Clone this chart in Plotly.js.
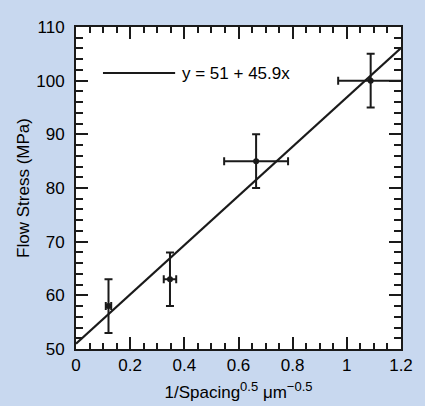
<!DOCTYPE html>
<html>
<head>
<meta charset="utf-8">
<script src="https://cdn.plot.ly/plotly-3.0.1.min.js"></script>
<style>html,body{margin:0;padding:0;background:#c8d8ef;}#chart{width:425px;height:406px;}</style>
</head>
<body>
<div id="chart"></div>
<script>
// Data
const spacingX = [0.12, 0.347, 0.665, 1.088];
const flowStress = [58, 63, 85, 100];
const xError = [0.01, 0.023, 0.118, 0.12];
const yError = [5, 5, 5, 5];
const fitIntercept = 51;
const fitSlope = 45.9;
const fitX = [0, 1.2];
const fitLabel = 'y = 51 + 45.9x';
const xTicks = [0, 0.2, 0.4, 0.6, 0.8, 1, 1.2];
const xTickText = ['0', '0.2', '0.4', '0.6', '0.8', '1', '1.2'];
const yTicks = [50, 60, 70, 80, 90, 100, 110];

const fitY = fitX.map(x => fitIntercept + fitSlope * x);
const FONT = '"Liberation Sans", Arial, sans-serif';
const INK = '#1a1a1a';

const traces = [
  {
    x: fitX, y: fitY, mode: 'lines', type: 'scatter',
    line: {color: INK, width: 2.2}, hoverinfo: 'skip', showlegend: false, cliponaxis: true
  },
  {
    x: spacingX, y: flowStress, mode: 'markers', type: 'scatter',
    marker: {color: INK, size: 6},
    error_x: {type: 'data', array: xError, visible: true, color: INK, thickness: 2, width: 4},
    error_y: {type: 'data', array: yError, visible: true, color: INK, thickness: 2, width: 4},
    showlegend: false, cliponaxis: true
  }
];

const axisCommon = {
  showgrid: false, zeroline: false, showline: true, linecolor: INK, linewidth: 2,
  mirror: 'ticks', ticks: 'inside', tickcolor: INK, tickwidth: 2, ticklen: 12,
  tickfont: {family: FONT, size: 17, color: '#000'}
};

const layout = {
  width: 425, height: 406,
  margin: {l: 76, r: 24, t: 27, b: 57},
  paper_bgcolor: '#c8d8ef', plot_bgcolor: '#ffffff',
  showlegend: false,
  xaxis: Object.assign({}, axisCommon, {
    range: [0, 1.2], tickvals: xTicks, ticktext: xTickText,
    minor: {dtick: 0.05, ticks: 'inside', ticklen: 6, tickwidth: 2, tickcolor: INK},
    ticklabelstandoff: 0,
    title: {text: '1/Spacing<sup><span style="font-size:13px">0.5</span></sup> μm<sup><span style="font-size:13px">−0.5</span></sup>', font: {family: FONT, size: 17, color: '#000'}, standoff: 12}
  }),
  yaxis: Object.assign({}, axisCommon, {
    range: [50, 110], tickvals: yTicks,
    minor: {dtick: 2, ticks: 'inside', ticklen: 7, tickwidth: 2, tickcolor: INK},
    ticklabelstandoff: 6,
    title: {text: 'Flow Stress (MPa)', font: {family: FONT, size: 17, color: '#000'}, standoff: 2}
  }),
  shapes: [
    {type: 'line', xref: 'paper', yref: 'paper', x0: 0.083, x1: 0.305, y0: 0.857, y1: 0.857,
     line: {color: INK, width: 2}}
  ],
  annotations: [
    {xref: 'paper', yref: 'paper', x: 0.32, y: 0.857, xanchor: 'left', yanchor: 'middle',
     text: fitLabel, showarrow: false, font: {family: FONT, size: 17, color: '#000'}}
  ]
};

Plotly.newPlot('chart', traces, layout, {displayModeBar: false, staticPlot: true});
</script>
</body>
</html>
